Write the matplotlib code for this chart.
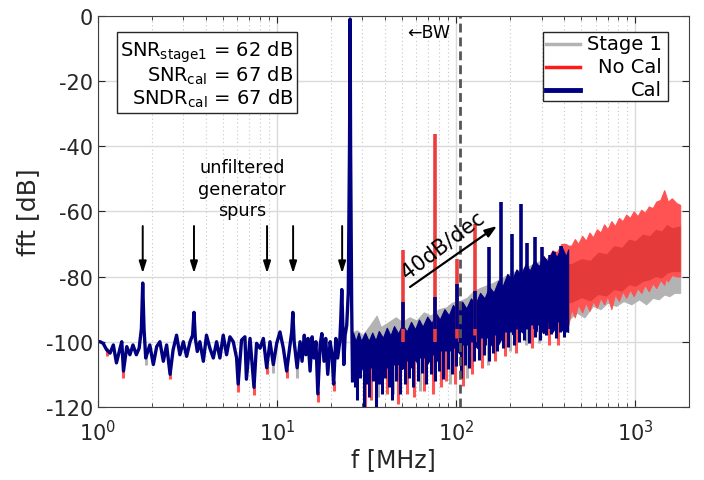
"""Output spectrum of the pipelined ADC: stage 1 vs. no cal vs. cal."""
import matplotlib
import matplotlib.pyplot as plt
from matplotlib.lines import Line2D
from matplotlib.patches import Rectangle
from matplotlib.ticker import LogLocator, NullFormatter, MultipleLocator

GRAY = "#b3b3b3"
RED_LIGHT = "#ff5252"
RED_DARK = "#e53a3a"
RED_SPIKE = "#ee3c3c"
NAVY = "#000080"
INK = "#262626"

# Cal trace below the test tone (MHz, dB)
CAL_LO_F = [1.0, 1.03, 1.07, 1.12, 1.17, 1.22, 1.27, 1.33, 1.36, 1.39,
            1.45, 1.51, 1.57, 1.64, 1.70, 1.75, 1.78, 1.81, 1.85, 1.95,
            2.04, 2.13, 2.22, 2.32, 2.42, 2.53, 2.63, 2.75, 2.87, 3.00,
            3.13, 3.27, 3.38, 3.44, 3.50, 3.59, 3.71, 3.88, 4.04, 4.22,
            4.41, 4.60, 4.80, 5.01, 5.23, 5.46, 5.70, 5.95, 6.07, 6.34,
            6.62, 6.75, 7.07, 7.44, 7.69, 8.04, 8.39, 8.76, 9.14, 9.54,
            9.96, 10.39, 10.85, 11.32, 11.82, 12.08, 12.26, 12.47, 12.95, 13.45,
            13.8, 14.2, 14.5, 14.9, 15.3, 15.7, 16.1, 16.5, 16.9, 17.4,
            17.8, 18.3, 18.7, 19.2, 19.8, 20.3, 20.7, 21.3, 21.8, 22.4,
            22.7, 23.0, 23.3, 23.6, 24.0, 24.5, 25.0, 25.4, 25.6, 25.75,
            26.1, 26.4]
CAL_LO_DB = [-100, -100, -100.5, -102.5, -103.5, -101, -106.5, -102, -100, -109,
             -101.5, -104, -101, -104, -102, -96, -82, -96, -105, -101,
             -107, -101.5, -100, -106, -101, -110, -102.5, -98, -104, -100,
             -104.5, -100, -98, -91, -99, -103, -100, -106, -98, -102,
             -105, -100, -105, -98, -104, -98.5, -100, -105, -113, -99.5,
             -98.5, -111.5, -99, -114, -100.5, -102, -99, -108, -100, -107,
             -100.5, -97, -102, -109, -101, -97, -91, -100, -108, -100,
             -106, -98, -104, -99, -109, -98.5, -105, -100, -116, -101,
             -97.5, -106, -99, -110, -100, -104, -113, -99, -105, -100,
             -93, -84, -95, -107, -98, -95, -85, -40, -1, -40,
             -88, -112]

# Cal noise band above the tone: upper / lower envelope
CAL_HI_F = [26.6, 27.5, 28.5, 29.5, 31, 32.5, 34, 35.5, 37, 39,
            41, 43, 45, 47.5, 50, 53, 56, 59, 62, 65,
            69, 73, 77, 81, 86, 91, 96, 102, 108, 114,
            121, 128, 136, 144, 153, 162, 172, 182, 193, 205,
            217, 230, 244, 258, 273, 290, 307, 325, 345, 365,
            387, 410, 422]
CAL_HI_TOP = [-97.2, -99.8, -97.2, -99.8, -97.2, -99.8, -97.2, -99.6, -96.7, -98.8,
              -95.7, -98.1, -95.2, -97.5, -94.7, -96.9, -93.9, -96.2, -93.2, -95.4,
              -92.3, -94.3, -91.2, -93.2, -90, -91.9, -88.7, -90.8, -87.7, -89.8,
              -86.7, -88.5, -85, -86.7, -83.2, -84.9, -81.3, -82.9, -79.2, -81.1,
              -77.8, -79.6, -76.2, -78.2, -75, -76.9, -73.7, -75.5, -72.1, -74,
              -70.7, -73.8, -71.7]
CAL_HI_BOT = [-109, -107.3, -109.5, -107.7, -110, -108, -110, -108, -109.8, -107.5,
              -109.3, -107.1, -109, -106.7, -108.4, -106.1, -107.9, -105.6, -107.3, -105,
              -106.8, -104.6, -106.3, -104, -105.8, -103.6, -105.4, -103, -104.6, -102.2,
              -103.8, -101.3, -102.8, -100.3, -101.8, -99.3, -100.8, -98.3, -99.8, -97.4,
              -99, -96.6, -98.3, -96, -97.8, -95.6, -97.4, -95.2, -97, -94.8,
              -96.6, -94.8, -97]
# narrow dips below the Cal band: frequency, bottom, top
CAL_DIP_F = [27.2, 28.0, 29.2, 30.4, 31.6, 32.8, 34.2, 35.5, 37.0, 38.6,
             40.3, 42.0, 44.0, 46.2, 48.5, 51.5, 54.5, 57.5, 61, 64.5,
             68, 72, 76, 80, 85, 90, 95, 100, 106, 112,
             118, 126, 134, 143, 152, 160, 170, 182, 195, 210,
             225, 240, 256, 275, 295, 318, 340, 360, 380, 400, 415]
CAL_DIP_BOT = [-114, -118, -111, -120, -113, -117, -112, -120, -113, -116,
               -111, -114, -118, -112, -116, -113, -111, -114, -112, -109.5,
               -113, -110, -112, -109, -111.5, -108.5, -110, -107.5, -111, -107,
               -108, -106, -105.5, -104, -106, -103.5, -103, -102, -101.5, -101,
               -100, -99.5, -100.5, -98.5, -99.5, -98, -97.5, -99, -97, -98.5, -97]
CAL_DIP_TOP = [-104, -104, -104, -104, -105, -105, -105, -105, -105, -105,
               -105, -104, -104, -104, -104, -103, -103, -103, -102, -102,
               -102, -101, -101, -101, -100, -100, -100, -99, -99, -99,
               -98, -98, -97, -97, -96, -96, -95, -95, -94, -94,
               -93, -93, -92, -92, -91, -91, -91, -91, -90, -90, -90]
CAL_SPIKE_F = [50.6, 76.3, 101, 127.7, 152, 178, 204, 230, 250, 275, 300, 332, 352, 386]
CAL_SPIKE_DB = [-87.8, -86.3, -82.3, -84.4, -70.8, -57, -67, -57.8, -69.7, -68,
                -71, -73.5, -72.6, -70.5]

# No Cal band (mostly hidden under Cal below 422 MHz)
NOCAL_F = [26.6, 35, 45, 60, 80, 100, 130, 160, 200, 250,
           300, 345, 365, 387, 410, 422, 440, 460, 480, 505,
           530, 555, 580, 610, 640, 670, 700, 735, 770, 810,
           850, 890, 935, 980, 1030, 1080, 1130, 1190, 1250, 1310,
           1380, 1450, 1480, 1520, 1600, 1700, 1780]
NOCAL_TOP = [-100, -100, -99, -97, -95, -93, -90, -87, -83, -80,
             -77.5, -72, -72.5, -70, -70, -70.5, -70.5, -68.5, -70, -67.5,
             -69, -66.5, -68, -65.5, -66.5, -64, -65.5, -63, -64.5, -62,
             -63, -61, -62, -60, -61.5, -59.5, -60.5, -58.5, -59, -57,
             -56.5, -53.5, -55, -57, -56, -57.5, -58]
NOCAL_BOT = [-106, -107, -106, -105, -104, -103, -101, -99.5, -97.5, -96,
             -95, -94, -94.5, -94, -94.5, -95, -90, -92.5, -88.5, -91,
             -88, -90.5, -87.5, -89.5, -86.5, -88.5, -86, -90, -85.5, -87.5,
             -84.5, -86.5, -84, -86, -83.5, -85, -82.5, -84.5, -82, -83.5,
             -81, -82.5, -80.5, -81.5, -79.5, -80, -80]
# dense core of the No Cal band above the Cal bandwidth
NOCAL_CORE_F = [425, 440, 500, 560, 620, 690, 760, 840, 920, 1000,
                1100, 1200, 1300, 1400, 1500, 1600, 1780]
NOCAL_CORE_TOP = [-76, -76, -74.5, -75, -72.5, -73, -70.5, -71, -68.5, -69,
                  -67, -67.5, -65.5, -66, -64, -65, -64.5]
NOCAL_CORE_BOT = [-88, -88, -86.5, -87.5, -85.5, -86, -84, -84.5, -82.5, -83,
                  -81.5, -81, -80, -80.5, -79, -78.5, -78.5]
NOCAL_SPIKE_F = [50.6, 76.3, 101, 127.7]
NOCAL_SPIKE_DB = [-72, -36.2, -74.6, -63.8]
NOCAL_TIP_F = [1.12, 1.39, 2.53, 6.07, 7.44, 8.76, 11.32, 16.9, 20.7,
               31, 33.5, 41, 47.5, 53, 58, 66, 74, 82, 88,
               98, 109, 122, 140, 165, 188, 215, 265, 330, 370]
NOCAL_TIP_TOP = [-102, -108, -109, -112, -113, -107, -108, -115, -112,
                 -108, -108, -108, -107, -106, -106, -105, -104, -103, -103,
                 -102, -101, -100, -99, -98, -97, -96, -95, -94, -94]
NOCAL_TIP_BOT = [-104.5, -111, -111.5, -115.5, -116.5, -110, -111, -118.5, -115,
                 -121, -118, -116, -119, -116, -117, -115, -116, -114, -112,
                 -113, -113.5, -110, -108, -106, -104.5, -103.5, -102, -101, -101]

# Stage 1 band
STAGE1_F = [26.6, 28, 30, 33, 36, 38, 42, 46, 50, 55,
            60, 66, 72, 80, 88, 95, 105, 115, 125, 136,
            160, 200, 250, 300, 380, 422, 430, 470, 520, 580,
            640, 700, 780, 860, 950, 1050, 1150, 1250, 1350, 1450,
            1550, 1650, 1780]
STAGE1_TOP = [-97, -96.5, -98, -95, -92, -95.5, -94, -92.5, -94, -92.5,
              -93.5, -91, -92, -90, -89.5, -88, -87.5, -86.5, -84.5, -83.5,
              -82, -79, -77, -75, -73, -74, -76, -75, -74, -73,
              -72, -72, -71, -70, -69, -68, -67.5, -67, -66, -65,
              -65, -64, -64]
STAGE1_BOT = [-104, -105, -104, -104, -103, -104, -103, -102, -103, -102,
              -102, -101, -101, -100, -100, -99, -99, -99, -98, -98,
              -97, -96, -95, -94, -93.5, -94, -93, -91, -92.5, -89,
              -90, -88, -89, -87.5, -88.5, -87, -88.5, -86.5, -87, -85.5,
              -86, -85, -85]
STAGE1_TIP_F = [1.85, 9.54, 12.95, 36.5, 44.5, 62.5, 92, 115, 150, 200, 245, 290]
STAGE1_TIP_TOP = [-104, -106, -107, -108, -107, -105, -103, -101, -99, -97, -96, -95]
STAGE1_TIP_BOT = [-107, -109.5, -111, -117, -116, -115, -113, -111, -107, -103, -101, -100.5]

# annotations
SPUR_F = [1.78, 3.44, 8.8, 12.3, 23.1]
BW_F = 105
SNR_TEXT = ("SNR$_{\\mathrm{stage1}}$ = 62 dB\n"
            "SNR$_{\\mathrm{cal}}$ = 67 dB\n"
            "SNDR$_{\\mathrm{cal}}$ = 67 dB")


def make_plot():
    plt.rcParams["font.family"] = "DejaVu Sans"
    plt.rcParams["mathtext.fontset"] = "dejavusans"
    plt.rcParams["axes.unicode_minus"] = False

    fig = plt.figure(figsize=(7.04, 4.81), dpi=100)
    ax = fig.add_axes([0.139, 0.152, 0.840, 0.813])

    # Stage 1
    ax.fill_between(STAGE1_F, STAGE1_BOT, STAGE1_TOP, color=GRAY, lw=0.8)
    ax.vlines(STAGE1_TIP_F, STAGE1_TIP_BOT, STAGE1_TIP_TOP, color=GRAY, lw=2.2)

    # No Cal
    ax.fill_between(NOCAL_F, NOCAL_BOT, NOCAL_TOP, color=RED_LIGHT, lw=0.8)
    ax.fill_between(NOCAL_CORE_F, NOCAL_CORE_BOT, NOCAL_CORE_TOP, color=RED_DARK, lw=0)
    ax.vlines(NOCAL_TIP_F, NOCAL_TIP_BOT, NOCAL_TIP_TOP, color=RED_LIGHT, lw=2.2)
    ax.vlines(NOCAL_SPIKE_F, -100, NOCAL_SPIKE_DB, color=RED_SPIKE, lw=2.6)

    # Cal
    ax.plot(CAL_LO_F, CAL_LO_DB, color=NAVY, lw=2.4, solid_joinstyle="round")
    ax.fill_between(CAL_HI_F, CAL_HI_BOT, CAL_HI_TOP, color=NAVY, lw=0.8)
    ax.vlines(CAL_DIP_F, CAL_DIP_BOT, CAL_DIP_TOP, color=NAVY, lw=2.2)
    ax.vlines(CAL_SPIKE_F, -96, CAL_SPIKE_DB, color=NAVY, lw=2.6)

    ax.set_xscale("log")
    ax.set_xlim(1, 2000)
    ax.set_ylim(-120, 0)
    ax.yaxis.set_major_locator(MultipleLocator(20))
    ax.xaxis.set_major_locator(LogLocator(base=10, numticks=10))
    ax.xaxis.set_minor_locator(LogLocator(base=10, subs=range(2, 10), numticks=20))
    ax.xaxis.set_minor_formatter(NullFormatter())

    ax.grid(which="major", color="#dadada", lw=1.0, ls="-")
    ax.grid(which="minor", axis="x", color="#c8c8c8", lw=0.8, ls=(0, (1, 2.5)))
    ax.set_axisbelow(True)
    ax.tick_params(which="both", direction="in", top=True, right=True,
                   colors=INK, labelsize=15)
    ax.tick_params(axis="x", which="major", pad=9)
    ax.tick_params(which="major", length=5)
    ax.tick_params(which="minor", length=3)
    for sp in ax.spines.values():
        sp.set_color("#404040")

    ax.set_xlabel("f [MHz]", fontsize=17, color=INK, labelpad=2)
    ax.set_ylabel("fft [dB]", fontsize=18, color=INK)

    # bandwidth marker
    ax.axvline(BW_F, color="#555555", lw=2.0, ls=(0, (3.2, 1.8)))
    ax.text(92, -4.9, "\u2190BW", ha="right", va="center", fontsize=12.5, color="k")

    # spur arrows
    for f in SPUR_F:
        ax.annotate("", xy=(f, -79), xytext=(f, -64.5),
                    arrowprops=dict(arrowstyle="-|>,head_length=0.7,head_width=0.22",
                                    color="k", lw=1.4, shrinkA=0, shrinkB=0))
    ax.text(6.37, -53, "unfiltered\ngenerator\nspurs", ha="center", va="center",
            fontsize=12.7, linespacing=1.25)

    # 40 dB/dec slope
    ax.annotate("", xy=(169, -64.5), xytext=(55.3, -83.2),
                arrowprops=dict(arrowstyle="-|>,head_length=0.7,head_width=0.25",
                                color="k", lw=1.6, shrinkA=0, shrinkB=0))
    ax.text(84.6, -70, "40dB/dec", rotation=37, ha="center", va="center",
            fontsize=15, rotation_mode="anchor")

    # SNR box
    ax.text(0.331, 0.942, SNR_TEXT, transform=ax.transAxes, ha="right", va="top",
            multialignment="right", fontsize=14, linespacing=1.0,
            bbox=dict(boxstyle="square,pad=0.2", fc="white", ec=INK, lw=1.0),
            zorder=5)

    # legend drawn by hand so the labels can be right aligned
    ax.add_patch(Rectangle((0.753, 0.783), 0.211, 0.176, transform=ax.transAxes,
                           fc="white", ec=INK, lw=1.0, zorder=5))
    rows = [("Stage 1", GRAY, 2.5, 0.928), ("No Cal", "#ff1a1a", 2.5, 0.870),
            ("Cal", NAVY, 3.5, 0.811)]
    for label, color, lw, y in rows:
        ax.add_line(Line2D([0.758, 0.816], [y, y], transform=ax.transAxes,
                           color=color, lw=lw, zorder=6))
        ax.text(0.954, y, label, transform=ax.transAxes, ha="right", va="center",
                fontsize=14, zorder=6)

    fig.savefig("out.png", dpi=100)


if __name__ == "__main__":
    matplotlib.use("agg")
    make_plot()
